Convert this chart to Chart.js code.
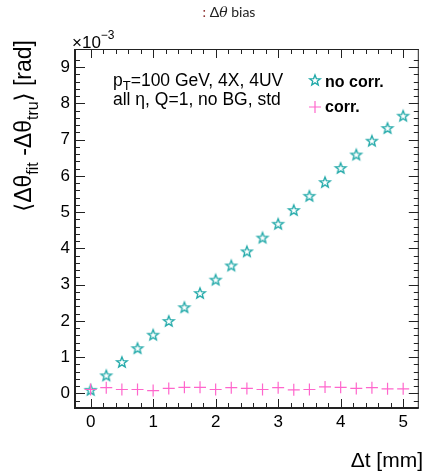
<!DOCTYPE html>
<html>
<head>
<meta charset="utf-8">
<script src="https://cdn.jsdelivr.net/npm/chart.js@4/dist/chart.umd.min.js"></script>
<style>
    body { margin: 0; background: #fff; }
    #caja { width: 426px; height: 471px; }
</style>
</head>
<body>
<div id="caja"><canvas id="sesgo" width="426" height="471"></canvas></div>
<script>
// Δt [mm]
const deltaT = [0, 0.25, 0.5, 0.75, 1, 1.25, 1.5, 1.75, 2, 2.25, 2.5, 2.75, 3, 3.25, 3.5, 3.75, 4, 4.25, 4.5, 4.75, 5];
// sesgo medio, en unidades de 1e-3 rad
const sinCorr = [0.1, 0.5, 0.87, 1.25, 1.62, 2.0, 2.38, 2.77, 3.14, 3.53, 3.92, 4.3, 4.68, 5.06, 5.45, 5.83, 6.22, 6.59, 6.97, 7.32, 7.66];
const conCorr = [0.11, 0.16, 0.11, 0.11, 0.08, 0.14, 0.17, 0.17, 0.11, 0.16, 0.14, 0.11, 0.16, 0.1, 0.11, 0.18, 0.17, 0.14, 0.16, 0.13, 0.13];
const series = ["no corr.", "corr."];

const TEAL = "#1fa8a8";
const ROSA = "#ff66cc";
const FUENTE = "'Liberation Sans', 'DejaVu Sans', sans-serif";

//Estrella abierta de cinco puntas para los marcadores
function estrella(color) {
    const r = 5.6;
    const ri = r * 0.42;
    const lado = 16;
    const c = document.createElement("canvas");
    c.width = lado;
    c.height = lado;
    const g = c.getContext("2d");
    g.strokeStyle = color;
    g.lineWidth = 1.3;
    g.beginPath();
    for (let i = 0; i < 10; i++) {
        const rad = i % 2 === 0 ? r : ri;
        const ang = -Math.PI / 2 + (i * Math.PI) / 5;
        const px = lado / 2 + rad * Math.cos(ang);
        const py = lado / 2 + 0.5 + rad * Math.sin(ang);
        if (i === 0) g.moveTo(px, py);
        else g.lineTo(px, py);
    }
    g.closePath();
    g.stroke();
    return c;
}
const marcaEstrella = estrella(TEAL);

const entero = (v) => Math.abs(v - Math.round(v)) < 1e-6;

//Escribe trozos de texto seguidos (para subíndices y superíndices)
function trozos(ctx, x, y, lista) {
    lista.forEach((p) => {
        ctx.font = p.font;
        ctx.fillStyle = p.color || "#000";
        ctx.fillText(p.t, x, y + (p.dy || 0));
        x += ctx.measureText(p.t).width;
    });
    return x;
}
function ancho(ctx, lista) {
    let w = 0;
    lista.forEach((p) => {
        ctx.font = p.font;
        w += ctx.measureText(p.t).width;
    });
    return w;
}

//Marco con marcas hacia adentro en los cuatro lados
const marco = {
    id: "marco",
    afterDraw(chart) {
        const { ctx, chartArea: a, scales } = chart;
        const x = scales.x;
        const y = scales.y;
        ctx.save();
        ctx.strokeStyle = "#222";
        ctx.lineWidth = 1;
        const linea = (x1, y1, x2, y2) => {
            ctx.beginPath();
            ctx.moveTo(x1, y1);
            ctx.lineTo(x2, y2);
            ctx.stroke();
        };
        x.ticks.forEach((t) => {
            if (t.value <= x.min + 1e-6 || t.value >= x.max - 1e-6) return;
            const px = Math.round(x.getPixelForValue(t.value)) + 0.5;
            const largo = entero(t.value) ? 9 : 5;
            linea(px, a.bottom, px, a.bottom - largo);
            linea(px, a.top, px, a.top + largo);
        });
        y.ticks.forEach((t) => {
            if (t.value <= y.min + 1e-6 || t.value >= y.max - 1e-6) return;
            const py = Math.round(y.getPixelForValue(t.value)) + 0.5;
            const largo = entero(t.value) ? 10 : 5;
            linea(a.left, py, a.left + largo, py);
            linea(a.right, py, a.right - largo, py);
        });
        ctx.lineWidth = 1;
        linea(a.left, a.top + 0.5, a.right, a.top + 0.5);
        linea(a.right - 0.5, a.top, a.right - 0.5, a.bottom);
        ctx.lineWidth = 2;
        linea(a.left, a.bottom, a.right, a.bottom);
        linea(a.left, a.top, a.left, a.bottom + 1);
        ctx.restore();
    },
};

//Títulos, leyenda y notas
const textos = {
    id: "textos",
    afterDraw(chart) {
        const ctx = chart.ctx;
        ctx.save();
        ctx.textBaseline = "alphabetic";
        ctx.textAlign = "left";

        // título superior
        const tit = [
            { t: ": ", font: "14px Lato, sans-serif", color: "#8a2b2b" },
            { t: "Δ", font: "14px Lato, sans-serif", color: "#222" },
            { t: "θ", font: "italic 14px 'DejaVu Serif', serif", color: "#222" },
            { t: " bias", font: "14px Lato, sans-serif", color: "#222" },
        ];
        trozos(ctx, 229 - ancho(ctx, tit) / 2, 17, tit);

        // factor de escala del eje y
        trozos(ctx, 72, 48, [
            { t: "×10", font: "17px " + FUENTE },
            { t: "−3", font: "12px " + FUENTE, dy: -9 },
        ]);

        // nota de selección
        trozos(ctx, 113, 86, [
            { t: "p", font: "17.5px " + FUENTE },
            { t: "T", font: "13px " + FUENTE, dy: 4 },
            { t: "=100 GeV, 4X, 4UV", font: "17.5px " + FUENTE },
        ]);
        trozos(ctx, 113, 105, [{ t: "all η, Q=1, no BG, std", font: "17.5px " + FUENTE }]);

        // leyenda
        ctx.drawImage(marcaEstrella, 315 - 8, 80 - 8);
        trozos(ctx, 325, 87, [{ t: series[0], font: "bold 16px " + FUENTE }]);
        ctx.strokeStyle = ROSA;
        ctx.lineWidth = 1.2;
        ctx.beginPath();
        ctx.moveTo(309, 107);
        ctx.lineTo(321, 107);
        ctx.moveTo(315, 101);
        ctx.lineTo(315, 113);
        ctx.stroke();
        trozos(ctx, 325, 112, [{ t: series[1], font: "bold 16px " + FUENTE }]);

        // título eje x
        const tx = [{ t: "Δt [mm]", font: "21px " + FUENTE }];
        trozos(ctx, 423 - ancho(ctx, tx), 467, tx);

        // título eje y, girado
        const ty = [
            { t: "⟨Δθ", font: "23px " + FUENTE },
            { t: "fit", font: "16px " + FUENTE, dy: 7 },
            { t: " -Δθ", font: "23px " + FUENTE },
            { t: "tru", font: "16px " + FUENTE, dy: 7 },
            { t: "⟩ [rad]", font: "23px " + FUENTE },
        ];
        const largoY = ancho(ctx, ty);
        ctx.translate(31, 40 + largoY);
        ctx.rotate(-Math.PI / 2);
        trozos(ctx, 0, 0, ty);
        ctx.restore();
    },
};

new Chart(document.getElementById("sesgo"), {
    type: "scatter",
    data: {
        datasets: [
            {
                label: series[0],
                data: deltaT.map((v, i) => ({ x: v, y: sinCorr[i] })),
                pointStyle: marcaEstrella,
                order: 1,
            },
            {
                label: series[1],
                data: deltaT.map((v, i) => ({ x: v, y: conCorr[i] })),
                pointStyle: "cross",
                pointRadius: 6,
                pointBorderWidth: 1.2,
                borderColor: ROSA,
                backgroundColor: ROSA,
                order: 0,
            },
        ],
    },
    options: {
        responsive: false,
        animation: false,
        events: [],
        layout: {
            padding: { top: 49, right: 3, left: 0, bottom: 0 },
        },
        plugins: {
            legend: { display: false },
            tooltip: { enabled: false },
            title: { display: false },
        },
        scales: {
            x: {
                type: "linear",
                min: -0.25,
                max: 5.25,
                grid: { display: false, drawTicks: false },
                border: { display: false },
                ticks: {
                    stepSize: 0.2,
                    autoSkip: false,
                    maxRotation: 0,
                    padding: 4,
                    color: "#000",
                    font: { family: FUENTE, size: 17 },
                    callback: (v) => (entero(v) ? String(Math.round(v)) : ""),
                },
                afterFit: (escala) => {
                    escala.height = 63;
                },
            },
            y: {
                type: "linear",
                min: -0.4,
                max: 9.5,
                grid: { display: false, drawTicks: false },
                border: { display: false },
                ticks: {
                    stepSize: 0.2,
                    autoSkip: false,
                    padding: 5,
                    color: "#000",
                    font: { family: FUENTE, size: 17 },
                    callback: (v) => (entero(v) ? String(Math.round(v)) : ""),
                },
                afterFit: (escala) => {
                    escala.width = 75;
                },
            },
        },
    },
    plugins: [marco, textos],
});
</script>
</body>
</html>
